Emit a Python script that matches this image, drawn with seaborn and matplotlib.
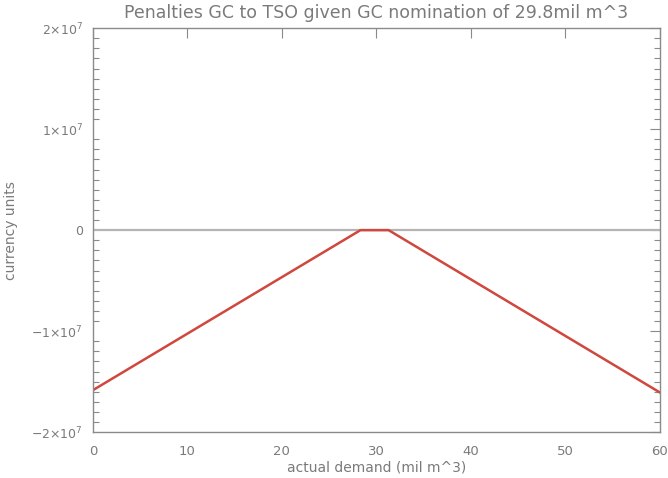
import matplotlib
matplotlib.use("Agg")
import matplotlib.pyplot as plt
import seaborn as sns
import pandas as pd
from matplotlib.ticker import MultipleLocator

# Data
demand = [0, 28.31, 31.29, 60]
penalty = [-1.585e7, 0, 0, -1.608e7]
zero_x = [0, 60]
zero_y = [0, 0]
x_ticks = [0, 10, 20, 30, 40, 50, 60]
y_ticks = [-2e7, -1e7, 0, 1e7, 2e7]
y_tick_labels = ["\u22122\u00d710$^7$", "\u22121\u00d710$^7$", "0", "1\u00d710$^7$", "2\u00d710$^7$"]

sns.set_style("white")
plt.rcParams['font.family'] = ['DejaVu Sans']

gray = "#8a8a8a"
txt = "#7a7a7a"

fig = plt.figure(figsize=(6.68, 4.78), dpi=100)
ax = fig.add_axes([0.139, 0.096, 0.849, 0.845])

df = pd.DataFrame({"demand": demand, "penalty": penalty})
dz = pd.DataFrame({"x": zero_x, "y": zero_y})
sns.lineplot(data=dz, x="x", y="y", ax=ax, color="#b4b4b4", linewidth=1.6)
sns.lineplot(data=df, x="demand", y="penalty", ax=ax, color="#d0473d", linewidth=1.8)

ax.set_xlim(0, 60)
ax.set_ylim(-2e7, 2e7)
ax.set_xticks(x_ticks)
ax.set_xticklabels([str(v) for v in x_ticks])
ax.set_yticks(y_ticks)
ax.set_yticklabels(y_tick_labels)
ax.yaxis.set_minor_locator(MultipleLocator(1e6))

for s in ax.spines.values():
    s.set_color(gray)
    s.set_linewidth(1.0)

ax.tick_params(axis="both", which="major", direction="in", length=7, width=0.8,
               color=gray, labelcolor=txt, top=True, right=True)
ax.tick_params(axis="x", which="major", pad=9, labelsize=9.5)
ax.tick_params(axis="y", which="major", pad=7, labelsize=9)
ax.tick_params(axis="y", which="minor", direction="in", length=4, width=0.8,
               color=gray, left=True, right=True)

ax.set_xlabel("actual demand (mil m^3)", color=txt, fontsize=10, labelpad=2)
ax.set_ylabel("currency units", color=txt, fontsize=10)
ax.yaxis.set_label_coords(-0.132, 0.5)
ax.set_title("Penalties GC to TSO given GC nomination of 29.8mil m^3",
             color=txt, fontsize=12.5, pad=7)

fig.savefig("out.png", dpi=100)
